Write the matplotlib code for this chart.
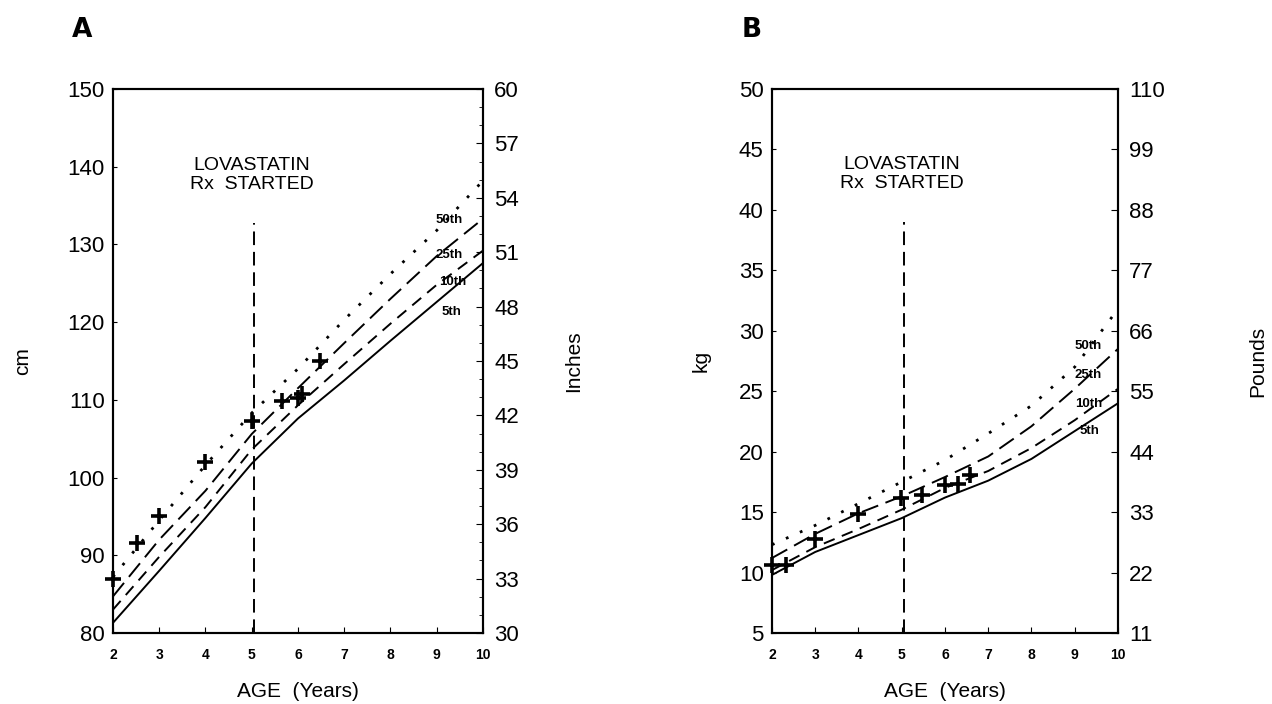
import matplotlib
matplotlib.use("Agg")
import matplotlib.pyplot as plt
from matplotlib.ticker import MultipleLocator

plt.rcParams['font.family'] = ['Liberation Sans', 'DejaVu Sans']

# growth reference ages (years)
ages = [2, 3, 4, 5, 6, 7, 8, 9, 10]

# height percentiles (cm)
ht_p5 = [81.3, 88.0, 94.8, 101.8, 107.6, 112.5, 117.6, 122.6, 127.6]
ht_p10 = [83.0, 89.8, 96.2, 103.6, 109.3, 114.6, 119.8, 124.8, 129.2]
ht_p25 = [84.7, 92.0, 98.3, 105.6, 111.5, 117.3, 123.0, 128.5, 133.3]
ht_p50 = [87.2, 94.5, 101.6, 108.3, 114.0, 120.3, 126.2, 131.8, 138.2]

# patient heights
ht_age = [2.0, 2.53, 3.0, 4.0, 5.0, 5.65, 6.0, 6.08, 6.48]
ht_val = [86.9, 91.6, 95.1, 102.0, 107.3, 109.8, 110.2, 110.8, 115.0]

# weight percentiles (kg)
wt_p5 = [9.8, 11.7, 13.1, 14.5, 16.2, 17.6, 19.4, 21.7, 24.0]
wt_p10 = [10.2, 12.1, 13.6, 15.2, 17.0, 18.4, 20.3, 22.6, 25.2]
wt_p25 = [11.2, 13.2, 14.9, 16.3, 17.9, 19.6, 22.1, 25.2, 28.5]
wt_p50 = [12.3, 13.9, 15.7, 17.5, 19.3, 21.5, 23.8, 27.0, 31.8]

# patient weights
wt_age = [2.0, 2.32, 3.0, 4.0, 4.98, 5.46, 6.0, 6.31, 6.58]
wt_val = [10.6, 10.6, 12.8, 14.8, 16.2, 16.4, 17.2, 17.3, 18.1]

pct_names = ['5th', '10th', '25th', '50th']
rx_start = 5.05

styles = {
    '5th': dict(linestyle='-', lw=1.4),
    '10th': dict(linestyle=(0, (6, 4)), lw=1.4),
    '25th': dict(linestyle=(0, (9, 4)), lw=1.4),
    '50th': dict(linestyle=(0, (1, 4.5)), lw=2.0),
}


def draw_panel(ax, curves, pt_age, pt_val, ylim, ystep, rx_top, lab_pos,
               ylabel, ylabel_x, ax2_lim, ax2_major, ax2_minor, y2label, y2label_x):
    for name, vals in zip(pct_names, curves):
        ax.plot(ages, vals, color='black', **styles[name])
    ax.plot(pt_age, pt_val, linestyle='none', marker='+', color='black',
            markersize=11, markeredgewidth=2.6, clip_on=False, zorder=5)
    ax.plot([rx_start, rx_start], [ylim[0], rx_top], color='black', lw=1.4,
            linestyle=(0, (7, 3.5)))
    ax.text(rx_start - 0.05, rx_top + (ylim[1] - ylim[0]) * 0.055, 'LOVASTATIN\nRx  STARTED',
            ha='center', va='bottom', fontsize=14, linespacing=1.15)
    for name, (lx, ly) in zip(pct_names, lab_pos):
        ax.text(lx, ly, name, fontsize=9.5, fontweight='bold', ha='left', va='center')

    ax.set_xlim(2, 10)
    ax.set_ylim(*ylim)
    ax.set_xticks(range(2, 11))
    ax.yaxis.set_major_locator(MultipleLocator(ystep))
    ax.tick_params(axis='x', direction='in', length=4, labelsize=10, pad=11)
    for t in ax.get_xticklabels():
        t.set_fontweight('bold')
    ax.tick_params(axis='y', direction='in', length=3, labelsize=16, pad=6)
    for sp in ax.spines.values():
        sp.set_linewidth(1.5)
    ax.set_xlabel('AGE  (Years)', fontsize=15, labelpad=14)
    ax.text(ylabel_x, 0.5, ylabel, transform=ax.transAxes, rotation=90,
            fontsize=15, ha='center', va='center')

    ax2 = ax.twinx()
    ax2.set_ylim(*ax2_lim)
    ax2.yaxis.set_major_locator(MultipleLocator(ax2_major))
    if ax2_minor:
        ax2.yaxis.set_minor_locator(MultipleLocator(ax2_minor))
    ax2.tick_params(axis='y', which='major', direction='in', length=5, labelsize=16, pad=8)
    ax2.tick_params(axis='y', which='minor', direction='in', length=3)
    ax2.text(y2label_x, 0.5, y2label, transform=ax.transAxes, rotation=90,
             fontsize=15, ha='center', va='center')
    for sp in ax2.spines.values():
        sp.set_linewidth(1.5)


fig = plt.figure(figsize=(12.72, 7.04), dpi=100)
axA = fig.add_axes([0.0888, 0.1009, 0.2909, 0.7727])
axB = fig.add_axes([0.6069, 0.1009, 0.2720, 0.7727])

draw_panel(axA, [ht_p5, ht_p10, ht_p25, ht_p50], ht_age, ht_val, (80, 150), 10, 132.8,
           [(9.1, 121.3), (9.05, 125.2), (8.98, 128.7), (8.98, 133.2)],
           'cm', -0.245, (30, 60), 3, 1, 'Inches', 1.245)
draw_panel(axB, [wt_p5, wt_p10, wt_p25, wt_p50], wt_age, wt_val, (5, 50), 5, 39.0,
           [(9.12, 21.7), (9.0, 23.9), (9.0, 26.3), (9.0, 28.7)],
           'kg', -0.205, (11, 110), 11, None, 'Pounds', 1.405)

fig.text(0.0566, 0.947, 'A', fontsize=19, fontweight='bold', family='DejaVu Sans')
fig.text(0.583, 0.947, 'B', fontsize=19, fontweight='bold', family='DejaVu Sans')

fig.savefig('out.png', dpi=100, facecolor='white')
